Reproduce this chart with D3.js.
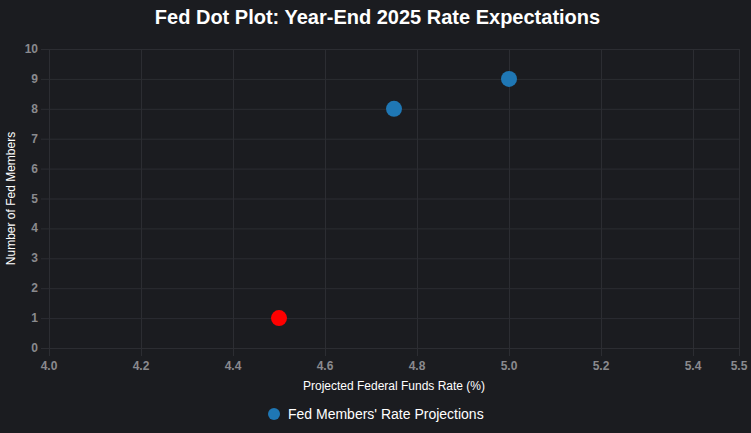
<!DOCTYPE html>
<html>
<head>
<meta charset="utf-8">
<script src="https://cdn.jsdelivr.net/npm/d3@7"></script>
<style>
  html, body { margin: 0; padding: 0; background: #1b1c20; }
  svg { display: block; font-family: "Liberation Sans", Arial, sans-serif; }
</style>
</head>
<body>
<div class="chart"></div>
<script>
// --- Data ---
const rates = [4.5, 4.75, 5.0];          // projected rate (%)
const members = [1, 8, 9];               // number of Fed members
const dotColors = ["#ff0000", "#1f77b4", "#1f77b4"];
const xTicks = [4.0, 4.2, 4.4, 4.6, 4.8, 5.0, 5.2, 5.4, 5.5];
const yTicks = [0, 1, 2, 3, 4, 5, 6, 7, 8, 9, 10];

const W = 751, H = 433;
const margin = { left: 49, right: 12, top: 49, bottom: 85 };

const svg = d3.select(".chart")
    .append("svg")
    .attr("width", W)
    .attr("height", H);

svg.append("rect").attr("width", W).attr("height", H).attr("fill", "#1b1c20");

// --- Scales ---
const x = d3.scaleLinear().domain([4.0, 5.5]).range([margin.left, W - margin.right]);
const y = d3.scaleLinear().domain([0, 10]).range([H - margin.bottom, margin.top]);

const gridColor = "#2c2d32";
const tickColor = "#8a8a8e";

// --- Grid (with tick stubs extending outside) ---
svg.append("g")
    .selectAll("line")
    .data(xTicks)
    .join("line")
    .attr("x1", d => x(d) + 0.5).attr("x2", d => x(d) + 0.5)
    .attr("y1", margin.top).attr("y2", H - margin.bottom + 8)
    .attr("stroke", gridColor);

svg.append("g")
    .selectAll("line")
    .data(yTicks)
    .join("line")
    .attr("x1", margin.left - 8).attr("x2", W - margin.right)
    .attr("y1", d => y(d) + 0.5).attr("y2", d => y(d) + 0.5)
    .attr("stroke", gridColor);

// --- Tick labels ---
svg.append("g")
    .selectAll("text")
    .data(xTicks)
    .join("text")
    .attr("x", d => x(d))
    .attr("y", H - margin.bottom + 22)
    .attr("text-anchor", "middle")
    .attr("fill", tickColor)
    .style("font-size", "12px")
    .style("font-weight", "bold")
    .text(d => d.toFixed(1));

svg.append("g")
    .selectAll("text")
    .data(yTicks)
    .join("text")
    .attr("x", margin.left - 11)
    .attr("y", d => y(d) + 4)
    .attr("text-anchor", "end")
    .attr("fill", tickColor)
    .style("font-size", "12px")
    .style("font-weight", "bold")
    .text(d => d);

// --- Dots ---
svg.append("g")
    .selectAll("circle")
    .data(rates.map((r, i) => ({ rate: r, count: members[i], color: dotColors[i] })))
    .join("circle")
    .attr("cx", d => x(d.rate))
    .attr("cy", d => y(d.count))
    .attr("r", 8)
    .attr("fill", d => d.color);

// --- Title ---
svg.append("text")
    .attr("x", W / 2 + 2)
    .attr("y", 24)
    .attr("text-anchor", "middle")
    .attr("fill", "#ffffff")
    .style("font-size", "20px")
    .style("font-weight", "bold")
    .text("Fed Dot Plot: Year-End 2025 Rate Expectations");

// --- Axis titles ---
svg.append("text")
    .attr("x", (margin.left + W - margin.right) / 2)
    .attr("y", 390)
    .attr("text-anchor", "middle")
    .attr("fill", "#ffffff")
    .style("font-size", "12px")
    .text("Projected Federal Funds Rate (%)");

svg.append("text")
    .attr("transform", `translate(15, ${(margin.top + H - margin.bottom) / 2}) rotate(-90)`)
    .attr("text-anchor", "middle")
    .attr("fill", "#ffffff")
    .style("font-size", "12px")
    .text("Number of Fed Members");

// --- Legend ---
const legend = svg.append("g").attr("transform", "translate(274, 414)");
legend.append("circle").attr("r", 6).attr("fill", "#1f77b4");
legend.append("text")
    .attr("x", 14)
    .attr("y", 5)
    .attr("fill", "#ffffff")
    .style("font-size", "14px")
    .text("Fed Members' Rate Projections");
</script>
</body>
</html>
